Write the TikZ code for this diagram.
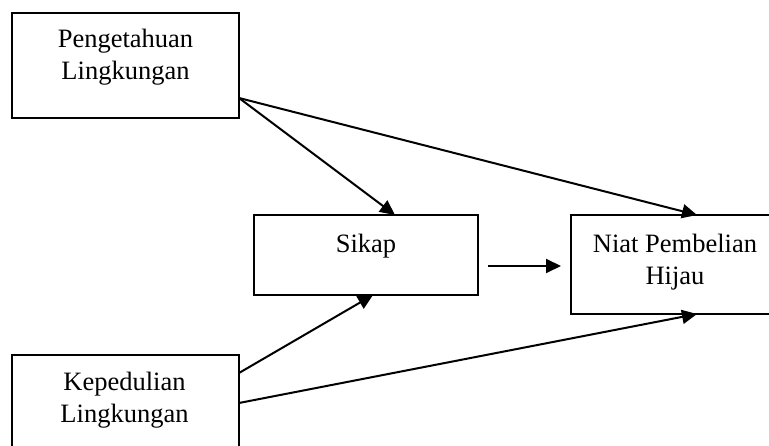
\documentclass[tikz,border=0pt]{standalone}
\usepackage{fontspec}
\setmainfont{Liberation Serif}
\usetikzlibrary{arrows.meta}
\begin{document}
\begin{tikzpicture}[x=1pt,y=-1pt,
  box/.style={draw, line width=2pt, rectangle, inner sep=0pt},
  lbl/.style={align=center, font=\fontsize{26.5}{31.5}\selectfont, inner sep=0pt},
  conn/.style={line width=2pt, -{Triangle[length=15pt,width=14pt]}}]
\useasboundingbox (0,0) rectangle (769,446);
\clip (0,0) rectangle (769,446);
% boxes
\node[box, minimum width=227pt, minimum height=105pt] (p) at (125.5,65.5) {};
\node[box, minimum width=224pt, minimum height=80pt] (s) at (366,255) {};
\node[box, minimum width=229pt, minimum height=99pt] (n) at (685.5,264.5) {};
\node[box, minimum width=227pt, minimum height=115pt] (k) at (125.5,412.5) {};
% labels
\node[lbl] (pt) at (125.5,57) {Pengetahuan\\Lingkungan};
\node[lbl] (st) at (366,246) {Sikap};
\node[lbl] (nt) at (675,262) {Niat Pembelian\\Hijau};
\node[lbl] (kt) at (124.5,400) {Kepedulian\\Lingkungan};
% connector end points
\coordinate (pOut) at (239,98);
\coordinate (kOut1) at (239,373);
\coordinate (kOut2) at (239,403);
\coordinate (sIn1) at (395,215);
\coordinate (sIn2) at (373,295);
\coordinate (nIn1) at (697,215);
\coordinate (nIn2) at (697,314);
\coordinate (sOut) at (488,266);
\coordinate (nIn3) at (561,266);
% connectors
\draw[conn] (pOut) -- (sIn1);
\draw[conn] (pOut) -- (nIn1);
\draw[conn] (kOut1) -- (sIn2);
\draw[conn] (kOut2) -- (nIn2);
\draw[conn] (sOut) -- (nIn3);
\end{tikzpicture}
\end{document}
